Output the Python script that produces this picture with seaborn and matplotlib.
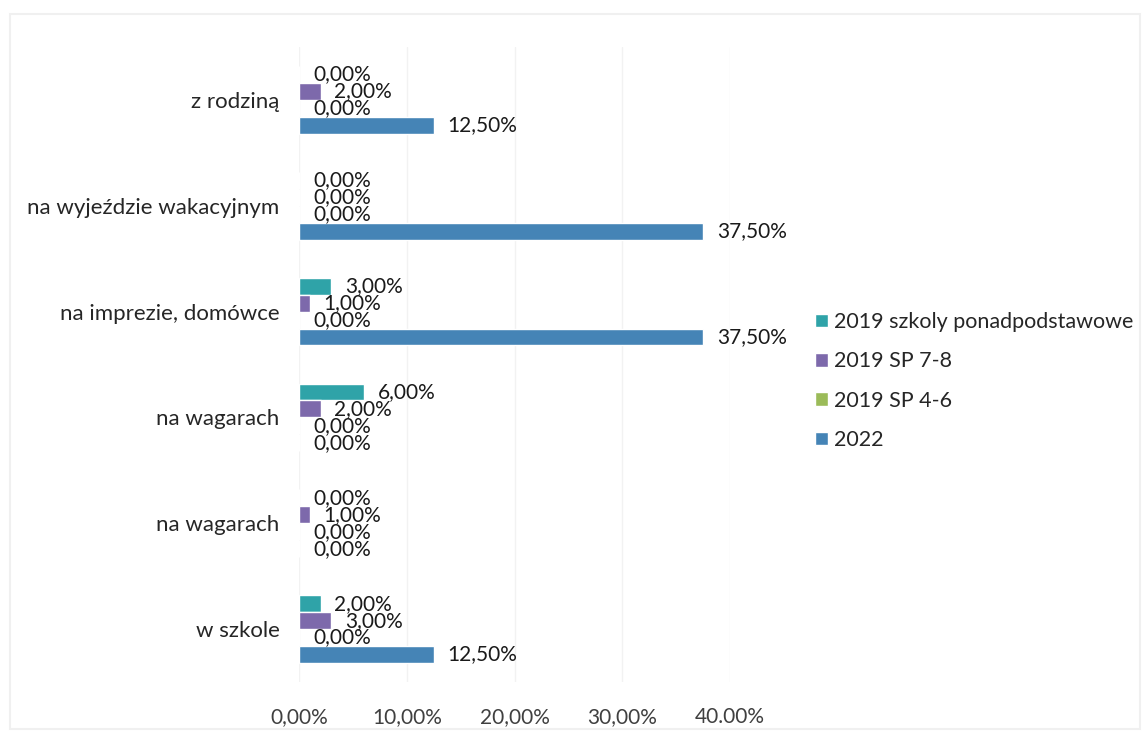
import pandas as pd
import matplotlib.pyplot as plt
import seaborn as sns
from matplotlib.patches import Rectangle

# ---------------------------------------------------------
# Data
# ---------------------------------------------------------
categories = ["z rodziną", "na wyjeździe wakacyjnym", "na imprezie, domówce",
              "na wagarach", "na wagarach", "w szkole"]
series = ["2019 szkoly ponadpodstawowe", "2019 SP 7-8", "2019 SP 4-6", "2022"]

v_ponad = [0, 0, 3, 6, 0, 2]
v_sp78 = [2, 0, 1, 2, 1, 3]
v_sp46 = [0, 0, 0, 0, 0, 0]
v_2022 = [12.5, 37.5, 37.5, 0, 0, 12.5]

xticks = [0, 10, 20, 30, 40]
xtick_labels = ["0,00%", "10,00%", "20,00%", "30,00%", "40.00%"]

colors = ["#2FA3A8", "#7D69AB", "#9BBB59", "#4584B6"]

# long format for seaborn; categories get a position id since one name repeats
pos_ids = [str(i) for i in range(len(categories))]
rows = []
for name, vals in zip(series, [v_ponad, v_sp78, v_sp46, v_2022]):
    for pid, v in zip(pos_ids, vals):
        rows.append({"pos": pid, "series": name, "value": v})
df = pd.DataFrame(rows)

# ---------------------------------------------------------
# Plot
# ---------------------------------------------------------
sns.set_theme(style="white")
plt.rcParams["font.family"] = ["Lato", "DejaVu Sans"]

fig = plt.figure(figsize=(11.47, 7.37), dpi=100)
ax = fig.add_axes([299 / 1147, 1 - 682 / 737, (730 - 299) / 1147, (682 - 47) / 737])

sns.barplot(data=df, x="value", y="pos", hue="series", order=pos_ids,
            hue_order=series, palette=colors, saturation=1, width=0.64,
            orient="h", ax=ax, legend=True)

for cont in ax.containers:
    labels = [f"{v:.2f}%".replace(".", ",") for v in cont.datavalues]
    ax.bar_label(cont, labels=labels, padding=10, fontsize=15, color="#1a1a1a")

ax.set_xlim(0, 40)
ax.set_xticks(xticks)
ax.set_xticklabels(xtick_labels, fontsize=15, color="#404040")
ax.set_yticks(range(len(categories)))
ax.set_yticklabels(categories, fontsize=16, color="#262626")
ax.tick_params(axis="x", length=0, pad=18)
ax.tick_params(axis="y", length=0, pad=14)
ax.set_xlabel("")
ax.set_ylabel("")
ax.grid(axis="x", color="#f2f2f2", linewidth=1)
ax.set_axisbelow(True)
sns.despine(ax=ax, left=True, bottom=True)

handles, labs = ax.get_legend_handles_labels()
ax.get_legend().remove()
fig.legend(handles, labs, loc="center left", bbox_to_anchor=(804 / 1147, 1 - 381 / 737),
           frameon=False, fontsize=15.5, handlelength=0.6, handleheight=0.6,
           handletextpad=0.3, labelspacing=0.9, borderpad=0)

# faint outer frame of the chart area
fig.patches.append(Rectangle((10 / 1147, 8 / 737), 1130 / 1147, 715 / 737,
                             transform=fig.transFigure, fill=False,
                             edgecolor="#f0f0f0", linewidth=1.5))

plt.savefig("out.png", dpi=100)
plt.close()
